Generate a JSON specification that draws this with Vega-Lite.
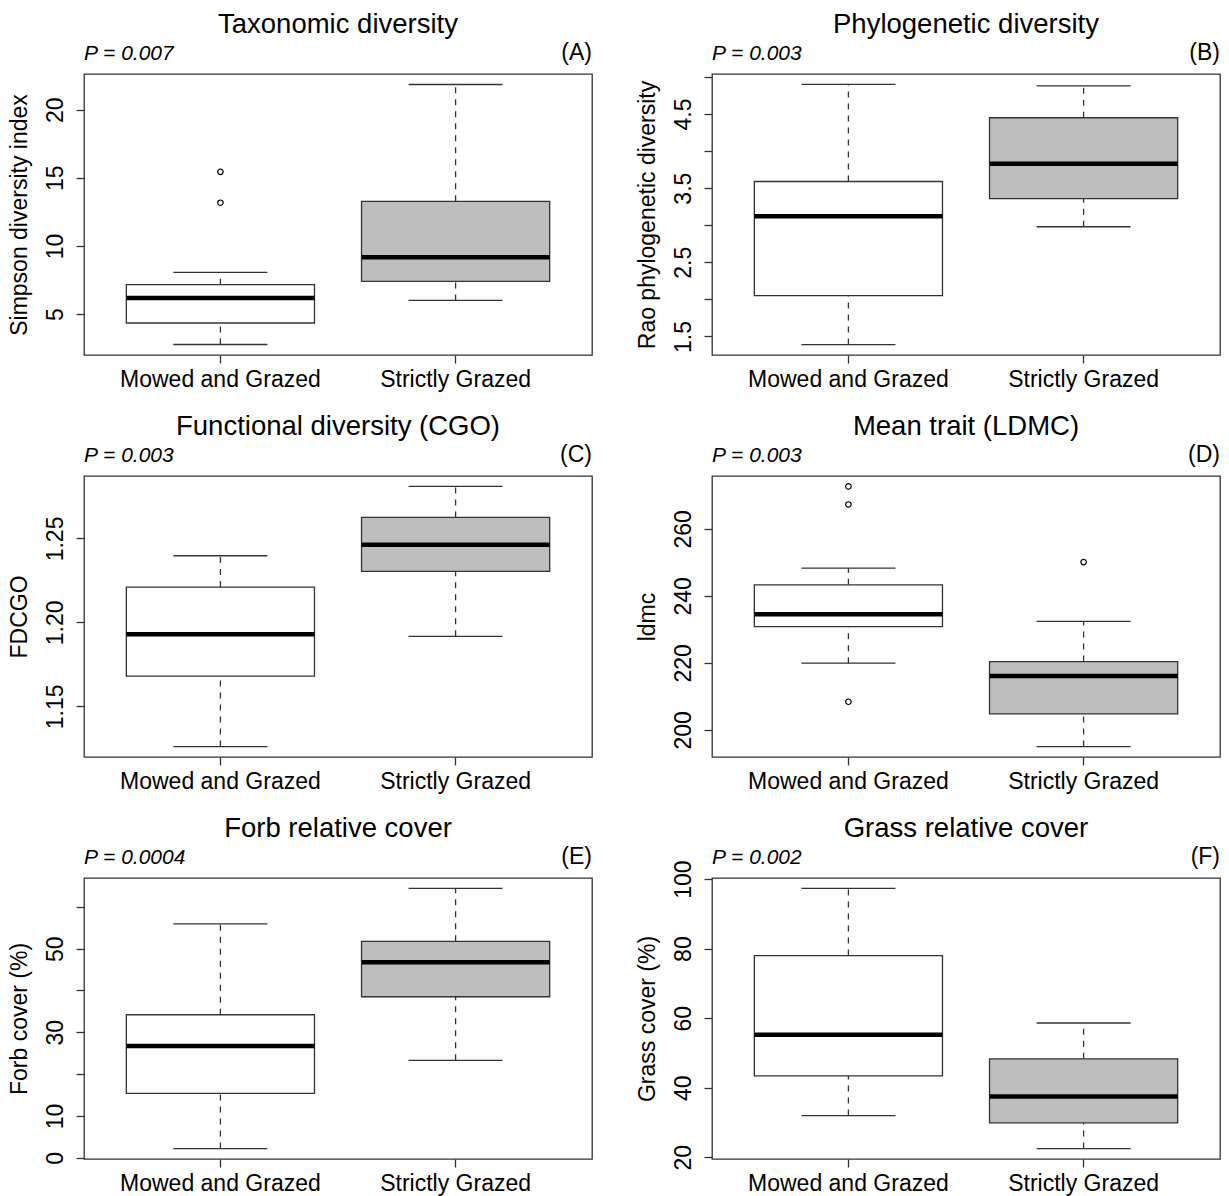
{
  "$schema": "https://vega.github.io/schema/vega-lite/v6.json",
  "background": "white",
  "padding": {"left": 7, "top": 9, "right": 5, "bottom": 5},
  "datasets": {
    "stats": [
      {"panel": "A", "group": "Mowed and Grazed", "lo": 2.76, "q1": 4.34, "med": 6.17, "q3": 7.15, "hi": 8.05},
      {"panel": "A", "group": "Strictly Grazed", "lo": 6.0, "q1": 7.39, "med": 9.17, "q3": 13.27, "hi": 21.85},
      {"panel": "B", "group": "Mowed and Grazed", "lo": 1.39, "q1": 2.05, "med": 3.12, "q3": 3.59, "hi": 4.9},
      {"panel": "B", "group": "Strictly Grazed", "lo": 2.98, "q1": 3.36, "med": 3.83, "q3": 4.45, "hi": 4.88},
      {"panel": "C", "group": "Mowed and Grazed", "lo": 1.126, "q1": 1.168, "med": 1.193, "q3": 1.221, "hi": 1.2397},
      {"panel": "C", "group": "Strictly Grazed", "lo": 1.1917, "q1": 1.2304, "med": 1.2462, "q3": 1.2625, "hi": 1.281},
      {"panel": "D", "group": "Mowed and Grazed", "lo": 219.9, "q1": 230.8, "med": 234.5, "q3": 243.3, "hi": 248.3},
      {"panel": "D", "group": "Strictly Grazed", "lo": 195.0, "q1": 204.8, "med": 216.1, "q3": 220.4, "hi": 232.4},
      {"panel": "E", "group": "Mowed and Grazed", "lo": 2.2, "q1": 15.4, "med": 26.75, "q3": 34.2, "hi": 55.95},
      {"panel": "E", "group": "Strictly Grazed", "lo": 23.3, "q1": 38.5, "med": 46.75, "q3": 51.75, "hi": 64.4},
      {"panel": "F", "group": "Mowed and Grazed", "lo": 32.0, "q1": 43.4, "med": 55.2, "q3": 78.0, "hi": 97.3},
      {"panel": "F", "group": "Strictly Grazed", "lo": 22.5, "q1": 29.9, "med": 37.5, "q3": 48.3, "hi": 58.6}
    ],
    "outliers": [
      {"panel": "A", "group": "Mowed and Grazed", "value": 13.17},
      {"panel": "A", "group": "Mowed and Grazed", "value": 15.44},
      {"panel": "D", "group": "Mowed and Grazed", "value": 272.7},
      {"panel": "D", "group": "Mowed and Grazed", "value": 267.3},
      {"panel": "D", "group": "Mowed and Grazed", "value": 208.4},
      {"panel": "D", "group": "Strictly Grazed", "value": 250.1}
    ],
    "labels": [
      {"panel": "A", "p": "P = 0.007", "tag": "(A)"},
      {"panel": "B", "p": "P = 0.003", "tag": "(B)"},
      {"panel": "C", "p": "P = 0.003", "tag": "(C)"},
      {"panel": "D", "p": "P = 0.003", "tag": "(D)"},
      {"panel": "E", "p": "P = 0.0004", "tag": "(E)"},
      {"panel": "F", "p": "P = 0.002", "tag": "(F)"}
    ]
  },
  "columns": 2,
  "bounds": "flush",
  "spacing": {"row": 121, "column": 120},
  "concat": [
    {
      "title": "Taxonomic diversity",
      "width": 508, "height": 281,
      "resolve": {"scale": {"x": "independent", "y": "independent"}},
      "layer": [
        {
          "data": {"name": "stats"},
          "transform": [{"filter": "datum.panel === 'A'"}],
          "encoding": {"x": {"field": "group", "type": "nominal", "sort": ["Mowed and Grazed", "Strictly Grazed"], "scale": {"type": "band", "paddingInner": 0.2, "paddingOuter": 0.18}, "axis": {"title": null}}},
          "layer": [
            {"mark": {"type": "rule", "strokeDash": [6, 6], "color": "#333", "strokeWidth": 1.3}, "encoding": {"y": {"field": "lo", "type": "quantitative", "title": "Simpson diversity index", "scale": {"domain": [1.99, 22.62], "nice": false, "zero": false}, "axis": {"values": [5, 10, 15, 20]}}, "y2": {"field": "q1"}}},
            {"mark": {"type": "rule", "strokeDash": [6, 6], "color": "#333", "strokeWidth": 1.3}, "encoding": {"y": {"field": "q3", "type": "quantitative"}, "y2": {"field": "hi"}}},
            {"mark": {"type": "bar", "stroke": "#333", "strokeWidth": 1.3, "opacity": 1}, "encoding": {"y": {"field": "q1", "type": "quantitative"}, "y2": {"field": "q3"}, "fill": {"field": "group", "type": "nominal", "scale": {"domain": ["Mowed and Grazed", "Strictly Grazed"], "range": ["#ffffff", "#bebebe"]}, "legend": null}}},
            {"mark": {"type": "tick", "size": 188, "thickness": 4.5, "color": "#000", "opacity": 1}, "encoding": {"y": {"field": "med", "type": "quantitative"}}},
            {"mark": {"type": "tick", "size": 94, "thickness": 1.3, "color": "#333", "opacity": 1}, "encoding": {"y": {"field": "lo", "type": "quantitative"}}},
            {"mark": {"type": "tick", "size": 94, "thickness": 1.3, "color": "#333", "opacity": 1}, "encoding": {"y": {"field": "hi", "type": "quantitative"}}},
            {"data": {"name": "outliers"}, "transform": [{"filter": "datum.panel === 'A'"}], "mark": {"type": "point", "shape": "circle", "filled": false, "size": 30, "color": "#000", "strokeWidth": 1.2, "opacity": 1}, "encoding": {"y": {"field": "value", "type": "quantitative"}}}
          ]
        },
        {"data": {"name": "labels"}, "transform": [{"filter": "datum.panel === 'A'"}], "mark": {"type": "text", "align": "left", "baseline": "alphabetic", "dy": -14, "fontStyle": "italic", "fontSize": 21}, "encoding": {"x": {"datum": 0, "type": "quantitative", "scale": {"domain": [0, 1]}, "axis": null}, "y": {"datum": 1, "type": "quantitative", "scale": {"domain": [0, 1]}, "axis": null}, "text": {"field": "p"}}},
        {"data": {"name": "labels"}, "transform": [{"filter": "datum.panel === 'A'"}], "mark": {"type": "text", "align": "right", "baseline": "alphabetic", "dy": -14, "fontSize": 23}, "encoding": {"x": {"datum": 1, "type": "quantitative", "scale": {"domain": [0, 1]}, "axis": null}, "y": {"datum": 1, "type": "quantitative", "scale": {"domain": [0, 1]}, "axis": null}, "text": {"field": "tag"}}}
      ]
    },
    {
      "title": "Phylogenetic diversity",
      "width": 508, "height": 281,
      "resolve": {"scale": {"x": "independent", "y": "independent"}},
      "layer": [
        {
          "data": {"name": "stats"},
          "transform": [{"filter": "datum.panel === 'B'"}],
          "encoding": {"x": {"field": "group", "type": "nominal", "sort": ["Mowed and Grazed", "Strictly Grazed"], "scale": {"type": "band", "paddingInner": 0.2, "paddingOuter": 0.18}, "axis": {"title": null}}},
          "layer": [
            {"mark": {"type": "rule", "strokeDash": [6, 6], "color": "#333", "strokeWidth": 1.3}, "encoding": {"y": {"field": "lo", "type": "quantitative", "title": "Rao phylogenetic diversity", "scale": {"domain": [1.25, 5.04], "nice": false, "zero": false}, "axis": {"values": [1.5, 2, 2.5, 3, 3.5, 4, 4.5, 5], "labelExpr": "(datum.value * 2) % 2 == 1 ? format(datum.value, '.1f') : ''"}}, "y2": {"field": "q1"}}},
            {"mark": {"type": "rule", "strokeDash": [6, 6], "color": "#333", "strokeWidth": 1.3}, "encoding": {"y": {"field": "q3", "type": "quantitative"}, "y2": {"field": "hi"}}},
            {"mark": {"type": "bar", "stroke": "#333", "strokeWidth": 1.3, "opacity": 1}, "encoding": {"y": {"field": "q1", "type": "quantitative"}, "y2": {"field": "q3"}, "fill": {"field": "group", "type": "nominal", "scale": {"domain": ["Mowed and Grazed", "Strictly Grazed"], "range": ["#ffffff", "#bebebe"]}, "legend": null}}},
            {"mark": {"type": "tick", "size": 188, "thickness": 4.5, "color": "#000", "opacity": 1}, "encoding": {"y": {"field": "med", "type": "quantitative"}}},
            {"mark": {"type": "tick", "size": 94, "thickness": 1.3, "color": "#333", "opacity": 1}, "encoding": {"y": {"field": "lo", "type": "quantitative"}}},
            {"mark": {"type": "tick", "size": 94, "thickness": 1.3, "color": "#333", "opacity": 1}, "encoding": {"y": {"field": "hi", "type": "quantitative"}}}
          ]
        },
        {"data": {"name": "labels"}, "transform": [{"filter": "datum.panel === 'B'"}], "mark": {"type": "text", "align": "left", "baseline": "alphabetic", "dy": -14, "fontStyle": "italic", "fontSize": 21}, "encoding": {"x": {"datum": 0, "type": "quantitative", "scale": {"domain": [0, 1]}, "axis": null}, "y": {"datum": 1, "type": "quantitative", "scale": {"domain": [0, 1]}, "axis": null}, "text": {"field": "p"}}},
        {"data": {"name": "labels"}, "transform": [{"filter": "datum.panel === 'B'"}], "mark": {"type": "text", "align": "right", "baseline": "alphabetic", "dy": -14, "fontSize": 23}, "encoding": {"x": {"datum": 1, "type": "quantitative", "scale": {"domain": [0, 1]}, "axis": null}, "y": {"datum": 1, "type": "quantitative", "scale": {"domain": [0, 1]}, "axis": null}, "text": {"field": "tag"}}}
      ]
    },
    {
      "title": "Functional diversity (CGO)",
      "width": 508, "height": 281,
      "resolve": {"scale": {"x": "independent", "y": "independent"}},
      "layer": [
        {
          "data": {"name": "stats"},
          "transform": [{"filter": "datum.panel === 'C'"}],
          "encoding": {"x": {"field": "group", "type": "nominal", "sort": ["Mowed and Grazed", "Strictly Grazed"], "scale": {"type": "band", "paddingInner": 0.2, "paddingOuter": 0.18}, "axis": {"title": null}}},
          "layer": [
            {"mark": {"type": "rule", "strokeDash": [6, 6], "color": "#333", "strokeWidth": 1.3}, "encoding": {"y": {"field": "lo", "type": "quantitative", "title": "FDCGO", "scale": {"domain": [1.1198, 1.2872], "nice": false, "zero": false}, "axis": {"values": [1.15, 1.2, 1.25], "format": ".2f"}}, "y2": {"field": "q1"}}},
            {"mark": {"type": "rule", "strokeDash": [6, 6], "color": "#333", "strokeWidth": 1.3}, "encoding": {"y": {"field": "q3", "type": "quantitative"}, "y2": {"field": "hi"}}},
            {"mark": {"type": "bar", "stroke": "#333", "strokeWidth": 1.3, "opacity": 1}, "encoding": {"y": {"field": "q1", "type": "quantitative"}, "y2": {"field": "q3"}, "fill": {"field": "group", "type": "nominal", "scale": {"domain": ["Mowed and Grazed", "Strictly Grazed"], "range": ["#ffffff", "#bebebe"]}, "legend": null}}},
            {"mark": {"type": "tick", "size": 188, "thickness": 4.5, "color": "#000", "opacity": 1}, "encoding": {"y": {"field": "med", "type": "quantitative"}}},
            {"mark": {"type": "tick", "size": 94, "thickness": 1.3, "color": "#333", "opacity": 1}, "encoding": {"y": {"field": "lo", "type": "quantitative"}}},
            {"mark": {"type": "tick", "size": 94, "thickness": 1.3, "color": "#333", "opacity": 1}, "encoding": {"y": {"field": "hi", "type": "quantitative"}}}
          ]
        },
        {"data": {"name": "labels"}, "transform": [{"filter": "datum.panel === 'C'"}], "mark": {"type": "text", "align": "left", "baseline": "alphabetic", "dy": -14, "fontStyle": "italic", "fontSize": 21}, "encoding": {"x": {"datum": 0, "type": "quantitative", "scale": {"domain": [0, 1]}, "axis": null}, "y": {"datum": 1, "type": "quantitative", "scale": {"domain": [0, 1]}, "axis": null}, "text": {"field": "p"}}},
        {"data": {"name": "labels"}, "transform": [{"filter": "datum.panel === 'C'"}], "mark": {"type": "text", "align": "right", "baseline": "alphabetic", "dy": -14, "fontSize": 23}, "encoding": {"x": {"datum": 1, "type": "quantitative", "scale": {"domain": [0, 1]}, "axis": null}, "y": {"datum": 1, "type": "quantitative", "scale": {"domain": [0, 1]}, "axis": null}, "text": {"field": "tag"}}}
      ]
    },
    {
      "title": "Mean trait (LDMC)",
      "width": 508, "height": 281,
      "resolve": {"scale": {"x": "independent", "y": "independent"}},
      "layer": [
        {
          "data": {"name": "stats"},
          "transform": [{"filter": "datum.panel === 'D'"}],
          "encoding": {"x": {"field": "group", "type": "nominal", "sort": ["Mowed and Grazed", "Strictly Grazed"], "scale": {"type": "band", "paddingInner": 0.2, "paddingOuter": 0.18}, "axis": {"title": null}}},
          "layer": [
            {"mark": {"type": "rule", "strokeDash": [6, 6], "color": "#333", "strokeWidth": 1.3}, "encoding": {"y": {"field": "lo", "type": "quantitative", "title": "ldmc", "scale": {"domain": [191.9, 275.8], "nice": false, "zero": false}, "axis": {"values": [200, 220, 240, 260]}}, "y2": {"field": "q1"}}},
            {"mark": {"type": "rule", "strokeDash": [6, 6], "color": "#333", "strokeWidth": 1.3}, "encoding": {"y": {"field": "q3", "type": "quantitative"}, "y2": {"field": "hi"}}},
            {"mark": {"type": "bar", "stroke": "#333", "strokeWidth": 1.3, "opacity": 1}, "encoding": {"y": {"field": "q1", "type": "quantitative"}, "y2": {"field": "q3"}, "fill": {"field": "group", "type": "nominal", "scale": {"domain": ["Mowed and Grazed", "Strictly Grazed"], "range": ["#ffffff", "#bebebe"]}, "legend": null}}},
            {"mark": {"type": "tick", "size": 188, "thickness": 4.5, "color": "#000", "opacity": 1}, "encoding": {"y": {"field": "med", "type": "quantitative"}}},
            {"mark": {"type": "tick", "size": 94, "thickness": 1.3, "color": "#333", "opacity": 1}, "encoding": {"y": {"field": "lo", "type": "quantitative"}}},
            {"mark": {"type": "tick", "size": 94, "thickness": 1.3, "color": "#333", "opacity": 1}, "encoding": {"y": {"field": "hi", "type": "quantitative"}}},
            {"data": {"name": "outliers"}, "transform": [{"filter": "datum.panel === 'D'"}], "mark": {"type": "point", "shape": "circle", "filled": false, "size": 30, "color": "#000", "strokeWidth": 1.2, "opacity": 1}, "encoding": {"y": {"field": "value", "type": "quantitative"}}}
          ]
        },
        {"data": {"name": "labels"}, "transform": [{"filter": "datum.panel === 'D'"}], "mark": {"type": "text", "align": "left", "baseline": "alphabetic", "dy": -14, "fontStyle": "italic", "fontSize": 21}, "encoding": {"x": {"datum": 0, "type": "quantitative", "scale": {"domain": [0, 1]}, "axis": null}, "y": {"datum": 1, "type": "quantitative", "scale": {"domain": [0, 1]}, "axis": null}, "text": {"field": "p"}}},
        {"data": {"name": "labels"}, "transform": [{"filter": "datum.panel === 'D'"}], "mark": {"type": "text", "align": "right", "baseline": "alphabetic", "dy": -14, "fontSize": 23}, "encoding": {"x": {"datum": 1, "type": "quantitative", "scale": {"domain": [0, 1]}, "axis": null}, "y": {"datum": 1, "type": "quantitative", "scale": {"domain": [0, 1]}, "axis": null}, "text": {"field": "tag"}}}
      ]
    },
    {
      "title": "Forb relative cover",
      "width": 508, "height": 281,
      "resolve": {"scale": {"x": "independent", "y": "independent"}},
      "layer": [
        {
          "data": {"name": "stats"},
          "transform": [{"filter": "datum.panel === 'E'"}],
          "encoding": {"x": {"field": "group", "type": "nominal", "sort": ["Mowed and Grazed", "Strictly Grazed"], "scale": {"type": "band", "paddingInner": 0.2, "paddingOuter": 0.18}, "axis": {"title": null}}},
          "layer": [
            {"mark": {"type": "rule", "strokeDash": [6, 6], "color": "#333", "strokeWidth": 1.3}, "encoding": {"y": {"field": "lo", "type": "quantitative", "title": "Forb cover (%)", "scale": {"domain": [-0.3, 66.9], "nice": false, "zero": false}, "axis": {"values": [0, 10, 20, 30, 40, 50, 60], "labelExpr": "datum.value == 0 || datum.value == 10 || datum.value == 30 || datum.value == 50 ? datum.label : ''"}}, "y2": {"field": "q1"}}},
            {"mark": {"type": "rule", "strokeDash": [6, 6], "color": "#333", "strokeWidth": 1.3}, "encoding": {"y": {"field": "q3", "type": "quantitative"}, "y2": {"field": "hi"}}},
            {"mark": {"type": "bar", "stroke": "#333", "strokeWidth": 1.3, "opacity": 1}, "encoding": {"y": {"field": "q1", "type": "quantitative"}, "y2": {"field": "q3"}, "fill": {"field": "group", "type": "nominal", "scale": {"domain": ["Mowed and Grazed", "Strictly Grazed"], "range": ["#ffffff", "#bebebe"]}, "legend": null}}},
            {"mark": {"type": "tick", "size": 188, "thickness": 4.5, "color": "#000", "opacity": 1}, "encoding": {"y": {"field": "med", "type": "quantitative"}}},
            {"mark": {"type": "tick", "size": 94, "thickness": 1.3, "color": "#333", "opacity": 1}, "encoding": {"y": {"field": "lo", "type": "quantitative"}}},
            {"mark": {"type": "tick", "size": 94, "thickness": 1.3, "color": "#333", "opacity": 1}, "encoding": {"y": {"field": "hi", "type": "quantitative"}}}
          ]
        },
        {"data": {"name": "labels"}, "transform": [{"filter": "datum.panel === 'E'"}], "mark": {"type": "text", "align": "left", "baseline": "alphabetic", "dy": -14, "fontStyle": "italic", "fontSize": 21}, "encoding": {"x": {"datum": 0, "type": "quantitative", "scale": {"domain": [0, 1]}, "axis": null}, "y": {"datum": 1, "type": "quantitative", "scale": {"domain": [0, 1]}, "axis": null}, "text": {"field": "p"}}},
        {"data": {"name": "labels"}, "transform": [{"filter": "datum.panel === 'E'"}], "mark": {"type": "text", "align": "right", "baseline": "alphabetic", "dy": -14, "fontSize": 23}, "encoding": {"x": {"datum": 1, "type": "quantitative", "scale": {"domain": [0, 1]}, "axis": null}, "y": {"datum": 1, "type": "quantitative", "scale": {"domain": [0, 1]}, "axis": null}, "text": {"field": "tag"}}}
      ]
    },
    {
      "title": "Grass relative cover",
      "width": 508, "height": 281,
      "resolve": {"scale": {"x": "independent", "y": "independent"}},
      "layer": [
        {
          "data": {"name": "stats"},
          "transform": [{"filter": "datum.panel === 'F'"}],
          "encoding": {"x": {"field": "group", "type": "nominal", "sort": ["Mowed and Grazed", "Strictly Grazed"], "scale": {"type": "band", "paddingInner": 0.2, "paddingOuter": 0.18}, "axis": {"title": null}}},
          "layer": [
            {"mark": {"type": "rule", "strokeDash": [6, 6], "color": "#333", "strokeWidth": 1.3}, "encoding": {"y": {"field": "lo", "type": "quantitative", "title": "Grass cover (%)", "scale": {"domain": [19.5, 100.3], "nice": false, "zero": false}, "axis": {"values": [20, 40, 60, 80, 100]}}, "y2": {"field": "q1"}}},
            {"mark": {"type": "rule", "strokeDash": [6, 6], "color": "#333", "strokeWidth": 1.3}, "encoding": {"y": {"field": "q3", "type": "quantitative"}, "y2": {"field": "hi"}}},
            {"mark": {"type": "bar", "stroke": "#333", "strokeWidth": 1.3, "opacity": 1}, "encoding": {"y": {"field": "q1", "type": "quantitative"}, "y2": {"field": "q3"}, "fill": {"field": "group", "type": "nominal", "scale": {"domain": ["Mowed and Grazed", "Strictly Grazed"], "range": ["#ffffff", "#bebebe"]}, "legend": null}}},
            {"mark": {"type": "tick", "size": 188, "thickness": 4.5, "color": "#000", "opacity": 1}, "encoding": {"y": {"field": "med", "type": "quantitative"}}},
            {"mark": {"type": "tick", "size": 94, "thickness": 1.3, "color": "#333", "opacity": 1}, "encoding": {"y": {"field": "lo", "type": "quantitative"}}},
            {"mark": {"type": "tick", "size": 94, "thickness": 1.3, "color": "#333", "opacity": 1}, "encoding": {"y": {"field": "hi", "type": "quantitative"}}}
          ]
        },
        {"data": {"name": "labels"}, "transform": [{"filter": "datum.panel === 'F'"}], "mark": {"type": "text", "align": "left", "baseline": "alphabetic", "dy": -14, "fontStyle": "italic", "fontSize": 21}, "encoding": {"x": {"datum": 0, "type": "quantitative", "scale": {"domain": [0, 1]}, "axis": null}, "y": {"datum": 1, "type": "quantitative", "scale": {"domain": [0, 1]}, "axis": null}, "text": {"field": "p"}}},
        {"data": {"name": "labels"}, "transform": [{"filter": "datum.panel === 'F'"}], "mark": {"type": "text", "align": "right", "baseline": "alphabetic", "dy": -14, "fontSize": 23}, "encoding": {"x": {"datum": 1, "type": "quantitative", "scale": {"domain": [0, 1]}, "axis": null}, "y": {"datum": 1, "type": "quantitative", "scale": {"domain": [0, 1]}, "axis": null}, "text": {"field": "tag"}}}
      ]
    }
  ],
  "config": {
    "font": "Liberation Sans",
    "view": {"stroke": "#333", "strokeWidth": 1.3},
    "title": {"fontSize": 27.5, "fontWeight": "normal", "color": "#000", "anchor": "middle", "frame": "group", "baseline": "alphabetic", "offset": 4},
    "text": {"color": "#000", "font": "Liberation Sans"},
    "axis": {"domain": false, "grid": false, "tickColor": "#333", "tickSize": 8, "tickWidth": 1.3, "labelFontSize": 23, "labelColor": "#000", "titleFontSize": 23, "titleFontWeight": "normal", "titleColor": "#000", "labelOverlap": false, "labelFlush": false, "labelBound": false, "labelLimit": 0},
    "axisX": {"labelAngle": 0, "labelPadding": 5, "labelBaseline": "top"},
    "axisY": {"labelAngle": -90, "labelAlign": "center", "labelBaseline": "alphabetic", "labelPadding": 14, "minExtent": 40, "maxExtent": 40, "titlePadding": 13}
  }
}
